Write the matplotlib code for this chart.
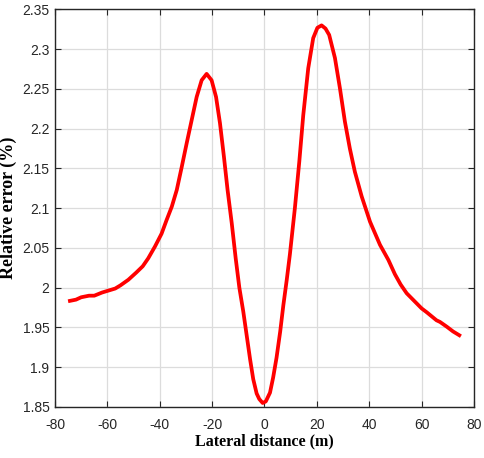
import matplotlib.pyplot as plt

# lateral distance (m) and relative error (%)
dist = [-75, -72, -70, -67, -65, -62, -60, -57, -55, -52, -49, -46.5, -44.4,
        -41.8, -39.3, -37.4, -35.4, -33.5, -31.6, -29.7, -27.8, -25.9, -24.0,
        -22.1, -20.2, -18.5, -17.0, -15.5, -14.1, -12.5, -11.0, -9.6, -8.1,
        -6.8, -5.5, -4.3, -3.0, -2.0, -0.7, 0.5, 2.1, 3.3, 4.6, 6.0, 7.2,
        8.5, 9.7, 11.6, 13.3, 14.8, 16.7, 18.6, 20.2, 21.8, 23.3, 24.7, 26.9,
        28.8, 30.7, 32.6, 34.5, 37.1, 40.3, 44.1, 47.3, 49.8, 52, 54.3, 57,
        60, 62, 65.7, 67, 69.6, 72, 75]
rel_err = [1.983, 1.985, 1.988, 1.990, 1.990, 1.994, 1.996, 1.999, 2.003,
           2.010, 2.019, 2.027, 2.037, 2.052, 2.068, 2.085, 2.102, 2.123,
           2.152, 2.182, 2.211, 2.240, 2.261, 2.269, 2.261, 2.240, 2.207,
           2.165, 2.123, 2.081, 2.037, 2.000, 1.970, 1.940, 1.910, 1.885,
           1.867, 1.860, 1.855, 1.857, 1.868, 1.887, 1.912, 1.945, 1.978,
           2.010, 2.042, 2.100, 2.159, 2.217, 2.276, 2.314, 2.327, 2.330,
           2.326, 2.318, 2.289, 2.251, 2.209, 2.175, 2.146, 2.115, 2.083,
           2.054, 2.035, 2.017, 2.004, 1.993, 1.984, 1.974, 1.969, 1.959,
           1.957, 1.951, 1.945, 1.939]

xticks = [-80, -60, -40, -20, 0, 20, 40, 60, 80]
yticks = [1.85, 1.9, 1.95, 2.0, 2.05, 2.1, 2.15, 2.2, 2.25, 2.3, 2.35]
ytick_labels = ['1.85', '1.9', '1.95', '2', '2.05', '2.1', '2.15', '2.2',
                '2.25', '2.3', '2.35']

fig = plt.figure(figsize=(4.85, 4.58), dpi=100)
ax = fig.add_axes([0.1134, 0.1114, 0.8639, 0.8679])

ax.plot(dist, rel_err, color='#ff0000', linewidth=2.7,
        solid_capstyle='butt', solid_joinstyle='round', zorder=3)

ax.set_xlim(-80, 80)
ax.set_ylim(1.85, 2.35)
ax.set_xticks(xticks)
ax.set_xticklabels([str(t) for t in xticks])
ax.set_yticks(yticks)
ax.set_yticklabels(ytick_labels)

ax.grid(True, color='#dcdcdc', linewidth=0.9)
ax.set_axisbelow(True)
for s in ax.spines.values():
    s.set_color('#262626')
    s.set_linewidth(1.0)
ax.tick_params(direction='in', length=4, width=0.8, color='#262626',
               top=True, right=True, labelcolor='#262626', labelsize=10)
ax.tick_params(axis='x', pad=8)
ax.tick_params(axis='y', pad=4)
for lab in ax.get_xticklabels() + ax.get_yticklabels():
    lab.set_family('Liberation Sans')

ax.set_xlabel('Lateral distance (m)', family='Liberation Serif',
              fontweight='bold', fontsize=11.5, labelpad=1)
ax.set_ylabel('Relative error (%)', family='Liberation Serif',
              fontweight='bold', fontsize=13, labelpad=4)

fig.savefig('out.png', dpi=100)
